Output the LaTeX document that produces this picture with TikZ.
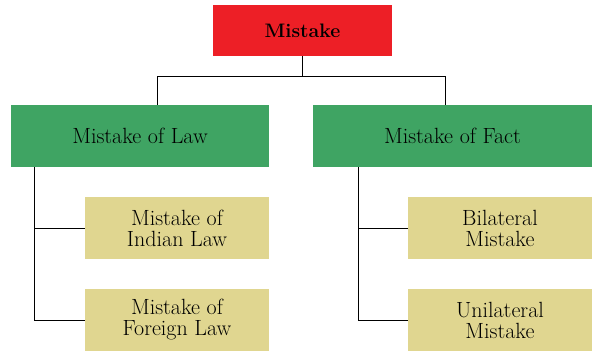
\documentclass[tikz,border=0pt]{standalone}
\usepackage{fontspec}
\usepackage{tikz}

\definecolor{topred}{HTML}{ED1F26}
\definecolor{midgreen}{HTML}{3FA463}
\definecolor{leafkhaki}{HTML}{E0D690}

\tikzset{
  box/.style={inner sep=0pt, align=center, font=\fontsize{22}{21}\selectfont},
  topbox/.style={box, fill=topred, minimum width=179pt, minimum height=51pt, font=\fontsize{19.5}{21}\selectfont\bfseries},
  midbox/.style={box, fill=midgreen, minimum height=62pt},
  leafbox/.style={box, fill=leafkhaki, minimum width=184pt, minimum height=62pt},
  link/.style={line width=1pt, black}
}

\begin{document}
\begin{tikzpicture}[x=1pt, y=1pt]
  \useasboundingbox (0,0) rectangle (598,-351);
  \node(mistake)[topbox] at (302.5,-30.5) {Mistake};
  \node(law)[midbox, minimum width=258pt] at (140,-136) {Mistake of Law};
  \node(fact)[midbox, minimum width=279pt] at (452.5,-136) {Mistake of Fact};
  \node(indian)[leafbox] at (177,-228) {Mistake of\\Indian Law};
  \node(foreign)[leafbox] at (177,-320) {Mistake of\\Foreign Law};
  \node(bilat)[leafbox] at (500,-228) {Bilateral\\Mistake};
  \node(unilat)[leafbox] at (500,-320) {Unilateral\\Mistake};
  \coordinate(split) at (302.5,-76.5);
  \coordinate(lawdrop) at (157,-76.5);
  \coordinate(factdrop) at (445.7,-76.5);
  \coordinate(lawrail) at (34,0);
  \coordinate(factrail) at (358,0);
  \draw[link] (mistake.south) -- (split);
  \draw[link] (law.north -| lawdrop) -- (lawdrop) -- (factdrop) -- (fact.north -| factdrop);
  \draw[link] (law.south -| lawrail) |- (indian.west);
  \draw[link] (law.south -| lawrail) |- (foreign.west);
  \draw[link] (fact.south -| factrail) |- (bilat.west);
  \draw[link] (fact.south -| factrail) |- (unilat.west);
\end{tikzpicture}
\end{document}
